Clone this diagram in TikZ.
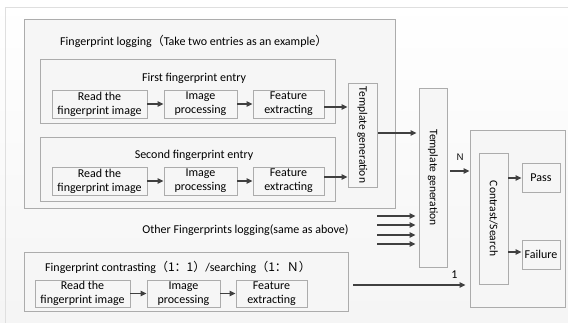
\documentclass[tikz,border=0pt]{standalone}
\usepackage{fontspec}
\setmainfont{Carlito}
\newfontfamily\cjk{Noto Sans CJK SC}
\usetikzlibrary{arrows.meta}
\tikzset{
  panel/.style={draw=gray!65, line width=0.9pt, fill=gray!7, inner sep=0pt},
  bx/.style={panel, minimum width=#1, align=center, font=\fontsize{12}{14}\selectfont},
  vbx/.style={panel, rotate=-90, font=\fontsize{11.5}{14}\selectfont},
  lbl/.style={font=\fontsize{12}{14}\selectfont, inner sep=0pt},
  arr/.style={draw=black!75, line width=1.2pt, -{Triangle[length=6pt,width=5.5pt]}},
}
\begin{document}
\begin{tikzpicture}[x=1pt,y=-1pt]
\useasboundingbox (0,0) rectangle (568,323);
\shade[top color=white, bottom color=gray!8] (0,0) rectangle (568,323);
\draw[gray!25, line width=0.8pt] (5,323) -- (5,7) -- (568,7);
% logging outer
\node[panel, minimum width=371pt, minimum height=189pt] (log) at (209.5,113.5) {};
\node[lbl, anchor=west] (logt) at (60,41) {Fingerprint logging{\cjk（}Take two entries as an example{\cjk）}};
% entry 1
\node[panel, minimum width=295pt, minimum height=64pt] (e1) at (187.5,91) {};
\node[lbl] (e1t) at (194,78) {First fingerprint entry};
\node[bx=95pt, minimum height=28pt] (r1) at (99.5,104) {Read the\\fingerprint image};
\node[bx=73pt, minimum height=28pt] (i1) at (200.5,104) {Image\\processing};
\node[bx=71pt, minimum height=28pt] (f1) at (288.5,104) {Feature\\extracting};
% entry 2
\node[panel, minimum width=295pt, minimum height=64pt] (e2) at (187.5,169) {};
\node[lbl] (e2t) at (194,155) {Second fingerprint entry};
\node[bx=95pt, minimum height=28pt] (r2) at (99.5,181) {Read the\\fingerprint image};
\node[bx=73pt, minimum height=28pt] (i2) at (200.5,181) {Image\\processing};
\node[bx=71pt, minimum height=28pt] (f2) at (288.5,181) {Feature\\extracting};
% template generation (rotate=-90: north is the right side, south the left side)
\node[vbx, minimum width=104pt, minimum height=29pt] (tg1) at (362.5,135) {Template generation};
\node[vbx, minimum width=179pt, minimum height=28pt] (tg2) at (433,177.5) {Template generation};
% other
\node[lbl] (oth) at (245.5,230) {Other Fingerprints logging(same as above)};
% right
\node[panel, minimum width=95pt, minimum height=177pt] (rb) at (517.5,218.5) {};
\node[vbx, minimum width=131pt, minimum height=29pt] (cs) at (493.5,218.5) {Contrast/Search};
\node[bx=38pt, minimum height=29pt] (pass) at (541,177.5) {Pass};
\node[bx=38pt, minimum height=29pt] (fail) at (541,254.5) {Failure};
% bottom
\node[panel, minimum width=324pt, minimum height=59pt] (cmp) at (186,281.5) {};
\node[lbl, anchor=west] (cmpt) at (45,267) {Fingerprint contrasting{\cjk（1：1）}/searching{\cjk（1：Ｎ）}};
\node[bx=95pt, minimum height=27pt] (r3) at (82.5,293.5) {Read the\\fingerprint image};
\node[bx=73pt, minimum height=27pt] (i3) at (183.5,293.5) {Image\\processing};
\node[bx=71pt, minimum height=27pt] (f3) at (271.5,293.5) {Feature\\extracting};
% arrows
\draw[arr] (r1) -- (i1);
\draw[arr] (i1) -- (f1);
\draw[arr] (r2) -- (i2);
\draw[arr] (i2) -- (f2);
\draw[arr] (r3) -- (i3);
\draw[arr] (i3) -- (f3);
\draw[arr] (f1.east |- 0,107) -- (tg1.south |- 0,107);
\draw[arr] (f2.east |- 0,177) -- (tg1.south |- 0,177);
\draw[arr] ([xshift=1pt]tg1.north |- 0,133) -- ([xshift=-2pt]tg2.south |- 0,133);
\draw[arr] ([xshift=3pt]tg2.north |- 0,171) -- node[above=7pt, font=\cjk\fontsize{9}{10}\selectfont] {Ｎ} (rb.west |- 0,171);
\draw[arr] ([xshift=5pt]cmp.east |- 0,285) -- node[pos=0.9, above=6pt, lbl] {1} ([xshift=-4pt]rb.west |- 0,285);
\foreach \yy/\nm in {216/a,225/b,235/c,244/d}{
  \coordinate (o\nm) at (377,\yy);
  \draw[arr] (o\nm) -- ([xshift=-3pt]tg2.south |- 0,\yy);
}
\draw[arr] (cs.north |- 0,178) -- (pass.west |- 0,178);
\draw[arr] (cs.north |- 0,252) -- (fail.west |- 0,252);
\end{tikzpicture}
\end{document}
